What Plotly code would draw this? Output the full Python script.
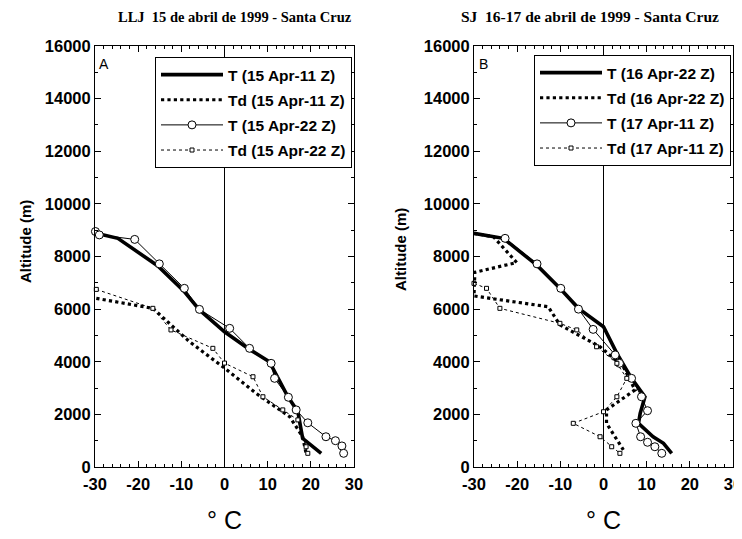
import plotly.graph_objects as go

# ---------------- data (temperature degC, altitude m) ----------------
# Panel A : LLJ 15 de abril de 1999
a_t11_temp = [-29.7, -24.7, -15.5, -9.5, -5.8, 0.0, 5.8, 10.4, 14.7, 17.0, 18.1, 22.4]
a_t11_alt = [8880, 8690, 7650, 6700, 5970, 5140, 4470, 4000, 2670, 2100, 1090, 520]

a_td11_temp = [-29.7, -23.5, -16.6, -8.1, -0.4, 7.3, 15.1, 18.1, 18.9]
a_td11_alt = [6410, 6220, 6030, 4760, 3810, 2800, 1910, 1150, 520]

a_t22_temp = [-29.9, -29.0, -20.8, -15.1, -9.3, -5.8, 1.2, 5.8, 10.8, 11.6, 14.8, 16.6, 19.3, 23.5, 25.7, 27.2, 27.6]
a_t22_alt = [8950, 8820, 8650, 7720, 6790, 5990, 5270, 4510, 3940, 3370, 2650, 2170, 1680, 1150, 1000, 800, 520]

a_td22_temp = [-29.7, -16.6, -12.4, -2.7, 0.0, 6.6, 8.9, 13.5, 17.0, 18.9, 19.3]
a_td22_alt = [6750, 6030, 5210, 4510, 3950, 3430, 2670, 2170, 1790, 770, 520]

# Panel B : SJ 16-17 de abril de 1999
b_t22_temp = [-30.0, -23.2, -15.5, -10.1, -5.8, 0.0, 3.1, 6.5, 9.6, 8.5, 8.1, 11.5, 13.9, 15.8]
b_t22_alt = [8880, 8690, 7680, 6790, 6030, 5330, 4320, 3370, 2670, 2040, 1660, 1150, 900, 520]

b_td22_temp = [-30.0, -25.5, -20.1, -29.8, -30.0, -12.8, -10.1, -0.8, 4.6, 7.3, 0.7, 0.7, 4.6]
b_td22_alt = [8880, 8750, 7770, 7400, 6500, 6090, 5400, 4570, 3810, 2930, 2170, 1660, 650]

b_t11_temp = [-22.8, -15.4, -9.9, -5.8, -2.4, 2.7, 3.7, 6.5, 8.8, 10.2, 7.5, 8.6, 10.2, 11.9, 13.5]
b_t11_alt = [8690, 7720, 6790, 6000, 5230, 4260, 3940, 3370, 2670, 2140, 1660, 1150, 940, 770, 520]

b_td11_temp = [-30.0, -27.1, -24.0, -10.1, -6.2, -1.6, 3.1, 5.4, 3.1, 0.0, -7.0, -0.8, 1.9, 3.8]
b_td11_alt = [6980, 6790, 6030, 5460, 5210, 4570, 3940, 3370, 2670, 2100, 1660, 1150, 770, 520]

names_a = ["T (15 Apr-11 Z)", "Td (15 Apr-11 Z)", "T (15 Apr-22 Z)", "Td (15 Apr-22 Z)"]
names_b = ["T (16 Apr-22 Z)", "Td (16 Apr-22 Z)", "T (17 Apr-11 Z)", "Td (17 Apr-11 Z)"]
titles = ["LLJ  15 de abril de 1999 - Santa Cruz", "SJ  16-17 de abril de 1999 - Santa Cruz"]
panel_letters = ["A", "B"]
x_ticks = [-30, -20, -10, 0, 10, 20, 30]
y_ticks = [0, 2000, 4000, 6000, 8000, 10000, 12000, 14000, 16000]

# page has an 8px body margin: figure drawn at (8, 8)
OFF = 8
W, H = 742, 539
FONT = "Liberation Sans, Arial, sans-serif"

def fx(px):
    return (px - OFF) / W

def fy(py):
    return 1 - (py - OFF) / H

fig = go.Figure()

def add_panel(series, names, xa, ya, legend, gid):
    styles = [
        dict(mode="lines", line=dict(color="black", width=3.6)),
        dict(mode="lines", line=dict(color="black", width=3.2, dash="dot")),
        dict(mode="lines+markers", line=dict(color="black", width=1),
             marker=dict(symbol="circle", size=8, color="white", line=dict(color="black", width=1))),
        dict(mode="lines+markers", line=dict(color="black", width=1, dash="dot"),
             marker=dict(symbol="square", size=4, color="white", line=dict(color="black", width=1))),
    ]
    for i, ((xs, ys), nm, st) in enumerate(zip(series, names, styles)):
        fig.add_trace(go.Scatter(x=xs, y=ys, name=nm, xaxis=xa, yaxis=ya,
                                 legend=legend, legendgroup=f"{gid}{i}",
                                 cliponaxis=False, **st))

add_panel([(a_t11_temp, a_t11_alt), (a_td11_temp, a_td11_alt),
           (a_t22_temp, a_t22_alt), (a_td22_temp, a_td22_alt)], names_a, "x", "y", "legend", "a")
add_panel([(b_t22_temp, b_t22_alt), (b_td22_temp, b_td22_alt),
           (b_t11_temp, b_t11_alt), (b_td11_temp, b_td11_alt)], names_b, "x2", "y2", "legend2", "b")

px_l = [(95, 354), (474, 733)]
top_px, bot_px = 46, 467
ydom = [fy(bot_px), fy(top_px)]

axis_common = dict(showgrid=False, zeroline=False, showline=True, linecolor="black", linewidth=1,
                   mirror="ticks", ticks="inside", ticklen=6, tickcolor="black", tickwidth=1,
                   automargin=False, ticklabeloverflow="allow")
tickfont = dict(family=FONT, size=16.5, color="black", weight="bold")

for k, (l, r) in enumerate(px_l):
    sfx = "" if k == 0 else str(k + 1)
    fig.update_layout(**{
        f"xaxis{sfx}": dict(domain=[fx(l), fx(r)], range=[-30, 30], tickvals=x_ticks,
                            ticktext=[str(v) for v in x_ticks], tickfont=tickfont,
                            anchor=f"y{sfx}", ticklabelstandoff=2,
                            minor=dict(dtick=2, ticks="inside", ticklen=3, tickcolor="black"),
                            **axis_common),
        f"yaxis{sfx}": dict(domain=ydom, range=[0, 16000], tickvals=y_ticks,
                            ticktext=[str(v) for v in y_ticks], tickfont=tickfont,
                            anchor=f"x{sfx}",
                            minor=dict(dtick=1000, ticks="inside", ticklen=3, tickcolor="black"),
                            **axis_common),
    })
    # zero line
    fig.add_shape(type="line", xref=f"x{sfx}", yref=f"y{sfx}", x0=0, x1=0, y0=0, y1=16000,
                  line=dict(color="black", width=1), layer="below")

legend_common = dict(bgcolor="white", bordercolor="black", borderwidth=1,
                     font=dict(family=FONT, size=15.5, color="black", weight="bold"),
                     xanchor="right", yanchor="top", itemwidth=62, tracegroupgap=2,
                     traceorder="grouped", xref="paper", yref="paper")
fig.update_layout(
    legend=dict(x=fx(352), y=fy(57), **legend_common),
    legend2=dict(x=fx(731), y=fy(55), **legend_common),
)

ann = []
centers = [235, 590]
title_sizes = [14.5, 15.5]
for k in range(2):
    ann.append(dict(x=fx(centers[k]), y=fy(17), xref="paper", yref="paper", text=titles[k],
                    showarrow=False, xanchor="center", yanchor="middle",
                    font=dict(family="Liberation Serif, Times New Roman, serif", size=title_sizes[k],
                              color="black", weight="bold")))
    ann.append(dict(x=fx((px_l[k][0] + px_l[k][1]) / 2), y=fy(520), xref="paper", yref="paper",
                    text="° C", showarrow=False, xanchor="center", yanchor="middle",
                    font=dict(family=FONT, size=25, color="black")))
    ann.append(dict(x=fx(25 if k == 0 else 400), y=fy(242 if k == 0 else 250), xref="paper", yref="paper",
                    text="Altitude (m)", textangle=-90, showarrow=False, xanchor="center", yanchor="middle",
                    font=dict(family=FONT, size=15, color="black", weight="bold")))
    ann.append(dict(x=fx(px_l[k][0] + 9), y=fy(64), xref="paper", yref="paper",
                    text=panel_letters[k], showarrow=False, xanchor="center", yanchor="middle",
                    font=dict(family=FONT, size=14, color="black")))

fig.update_layout(annotations=ann, width=W, height=H, margin=dict(l=0, r=0, t=0, b=0, autoexpand=False),
                  paper_bgcolor="white", plot_bgcolor="white", showlegend=True)

fig.write_html("out.html")
